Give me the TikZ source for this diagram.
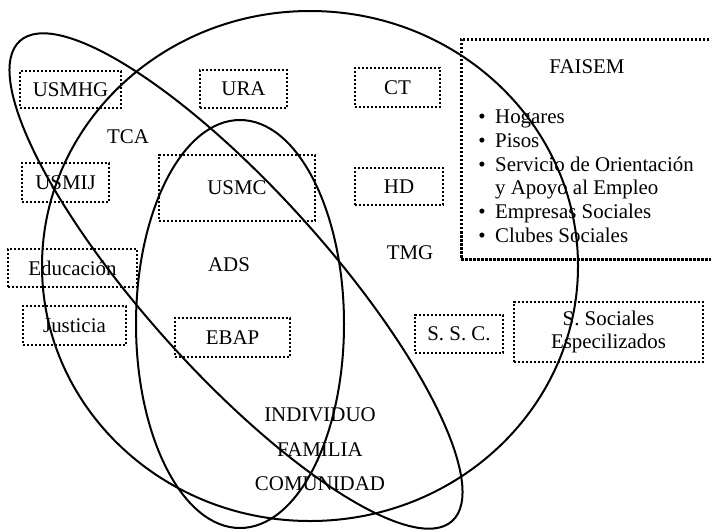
\documentclass[tikz,border=0pt]{standalone}
\usepackage{fontspec}
\setmainfont{Liberation Serif}
\begin{document}
\begin{tikzpicture}[x=1pt,y=-1pt,
  every node/.style={font=\fontsize{20.9}{23.8}\selectfont, inner sep=0pt},
  ring/.style={line width=2pt},
  dotbox/.style={draw, rectangle, line width=2.6pt, dash pattern=on 2.2pt off 1.8pt, align=center},
  item/.style={anchor=base west},
  bul/.style={anchor=base},
]
\useasboundingbox (0,0) rectangle (711,530);
\clip (0,0) rectangle (711,530);

% the three overlapping areas
\draw[ring] (310,266) ellipse [x radius=268, y radius=255];
\draw[ring] (240,324) ellipse [x radius=104, y radius=204];
\draw[ring, rotate around={-48:(236,281)}] (236,281) ellipse [x radius=323, y radius=91];

% services in dotted boxes
\node[dotbox, minimum width=101pt, minimum height=37pt] (usmhg) at (70.5,89.5) {USMHG};
\node[dotbox, minimum width=87pt,  minimum height=38pt] (ura)   at (243.5,89) {URA};
\node[dotbox, minimum width=85pt,  minimum height=39pt] (ct)    at (397.5,87.5) {CT};
\node[dotbox, minimum width=87pt,  minimum height=39pt] (usmij) at (65.5,182.5) {USMIJ};
\node[dotbox, minimum width=156pt, minimum height=66pt] (usmc)  at (237,188) {USMC};
\node[dotbox, minimum width=88pt,  minimum height=37pt] (hd)    at (399,186.5) {HD};
\node[dotbox, minimum width=129pt, minimum height=38pt] (edu)   at (72.5,268) {Educación};
\node[dotbox, minimum width=103pt, minimum height=39pt] (just)  at (74.5,325.5) {Justicia};
\node[dotbox, minimum width=115pt, minimum height=39pt] (ebap)  at (232.5,337.5) {EBAP};
\node[dotbox, minimum width=88pt,  minimum height=38pt] (ssc)   at (459,334) {S. S. C.};
\node[dotbox, minimum width=189pt, minimum height=60pt] (sse)   at (608.5,332) {S. Sociales\\Especilizados};

% FAISEM box with its list
\node[dotbox, anchor=north west, minimum width=270pt, minimum height=220pt] (faisem) at (460,38) {};
\node[anchor=base] (faisemt) at (587,73) {FAISEM};
\node[bul] (b1) at (482,123) {\textbullet};
\node[item] (i1) at (495,123) {Hogares};
\node[bul] (b2) at (482,147) {\textbullet};
\node[item] (i2) at (495,147) {Pisos};
\node[bul] (b3) at (482,171) {\textbullet};
\node[item] (i3) at (495,171) {Servicio de Orientación};
\node[item] (i4) at (495,194) {y Apoyo al Empleo};
\node[bul] (b5) at (482,218) {\textbullet};
\node[item] (i5) at (495,218) {Empresas Sociales};
\node[bul] (b6) at (482,242) {\textbullet};
\node[item] (i6) at (495,242) {Clubes Sociales};

% area labels
\node (tca) at (128,137) {TCA};
\node (ads) at (229,265) {ADS};
\node (tmg) at (410,253) {TMG};
\node (ind) at (320,415) {INDIVIDUO};
\node (fam) at (320,450) {FAMILIA};
\node (com) at (320,484) {COMUNIDAD};
\end{tikzpicture}
\end{document}
